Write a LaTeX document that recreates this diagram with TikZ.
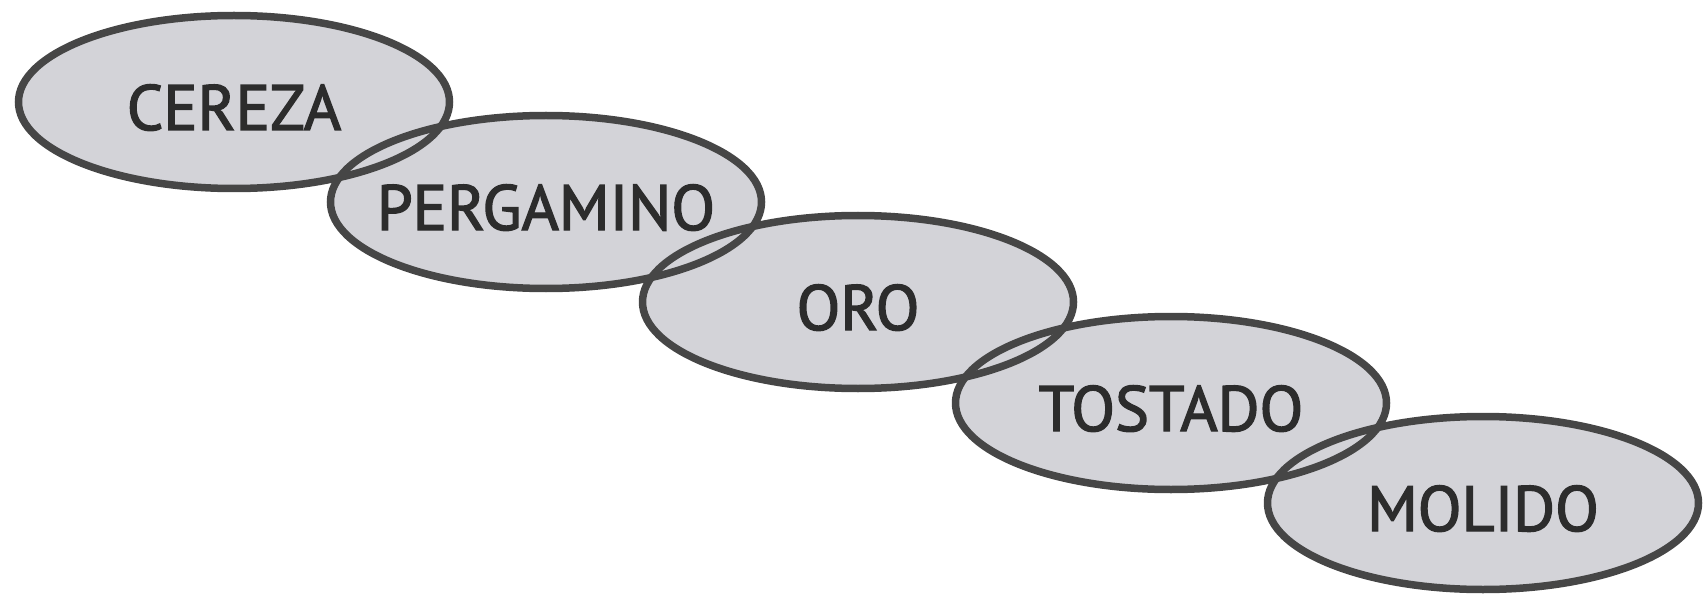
\documentclass[tikz,border=0pt]{standalone}
\usepackage{fontspec}
\newfontfamily\stagefont{PT Sans}[FakeBold=2.2]
\usetikzlibrary{backgrounds}
\definecolor{beanfill}{RGB}{211,211,216}
\definecolor{beanline}{RGB}{70,70,70}
\definecolor{beantext}{RGB}{44,44,44}
\tikzset{
  stage/.style={inner sep=0pt, text=beantext,
    font=\stagefont\fontsize{64}{64}\selectfont,
    text height=56pt, text depth=0pt},
  bean/.style={fill=beanfill},
  rim/.style={draw=beanline, line width=7.5pt}
}
\begin{document}
\begin{tikzpicture}[x=1pt, y=-1pt]
  \useasboundingbox (0,0) rectangle (1705,596);
  % the five stages
  \node[stage] (cereza)    at (234,102) {CEREZA};
  \node[stage] (pergamino) at (546,202) {PERGAMINO};
  \node[stage] (oro)       at (858,302) {ORO};
  \node[stage] (tostado)   at (1171,403) {TOSTADO};
  \node[stage] (molido)    at (1483,503) {MOLIDO};
  % ellipses behind the labels: all fills first, then all rims,
  % so both rims show where two ellipses overlap
  \begin{scope}[on background layer]
    \foreach \n in {cereza,pergamino,oro,tostado,molido}
      \fill[bean] (\n.center) ellipse [x radius=215.5, y radius=86.5];
    \foreach \n in {cereza,pergamino,oro,tostado,molido}
      \draw[rim] (\n.center) ellipse [x radius=215.5, y radius=86.5];
  \end{scope}
\end{tikzpicture}
\end{document}
